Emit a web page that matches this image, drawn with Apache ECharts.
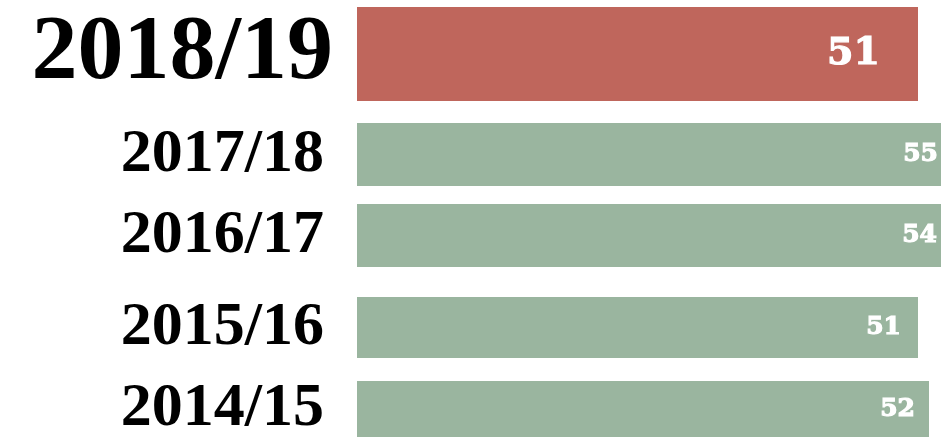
<!DOCTYPE html>
<html>
<head>
<meta charset="utf-8">
<script src="https://cdn.jsdelivr.net/npm/echarts@6/dist/echarts.min.js"></script>
<style>
  html, body { margin: 0; padding: 0; background: #fff; }
  #chart { width: 941px; height: 438px; }
</style>
</head>
<body>
<div id="chart"></div>
<script>
// seasons, newest first (the current one is highlighted)
const seasons = ['2018/19', '2017/18', '2016/17', '2015/16', '2014/15']
const values = [51, 55, 54, 51, 52]

// one grid per bar, since the rows have different heights
const rowTop = [7, 123, 204, 297, 381]
const rowHeight = [94, 63, 63, 61, 56]
const labelSize = [92, 62, 62, 62, 62]
const labelGap = [24, 33, 33, 33, 33]
const labelLift = [0, 2, 6, 0, 0]
const valueSize = [38, 25, 25, 25, 25]
const valueGap = [38, 24, 14, 17, 14]

const chart = echarts.init(document.getElementById('chart'))

const grids = []
const xAxes = []
const yAxes = []
const series = []

seasons.forEach((s, i) => {
    grids.push({
        left: 357,
        width: 616, // runs past the right edge, long bars get cut off
        top: rowTop[i],
        height: rowHeight[i],
        outerBoundsMode: 'none',
    })
    xAxes.push({
        gridIndex: i,
        type: 'value',
        min: 0,
        max: 56,
        show: false,
    })
    yAxes.push({
        gridIndex: i,
        type: 'category',
        data: [s],
        axisLine: { show: false },
        axisTick: { show: false },
        splitLine: { show: false },
        axisLabel: {
            margin: labelGap[i],
            padding: [0, 0, labelLift[i] * 2, 0],
            fontFamily: 'Liberation Serif',
            fontWeight: 'bold',
            fontSize: labelSize[i],
            color: '#000',
        },
    })
    series.push({
        type: 'bar',
        xAxisIndex: i,
        yAxisIndex: i,
        data: [values[i]],
        barCategoryGap: '0%',
        itemStyle: { color: i === 0 ? '#bf665c' : '#9ab59f' },
        label: {
            show: true,
            position: 'insideRight',
            distance: valueGap[i],
            fontFamily: 'DejaVu Serif',
            fontWeight: 'bold',
            fontSize: valueSize[i],
            color: '#fff',
            textBorderColor: '#fff',
            textBorderWidth: 1.2,
        },
        silent: true,
    })
})

chart.setOption({
    animation: false,
    grid: grids,
    xAxis: xAxes,
    yAxis: yAxes,
    series: series,
})
</script>
</body>
</html>
